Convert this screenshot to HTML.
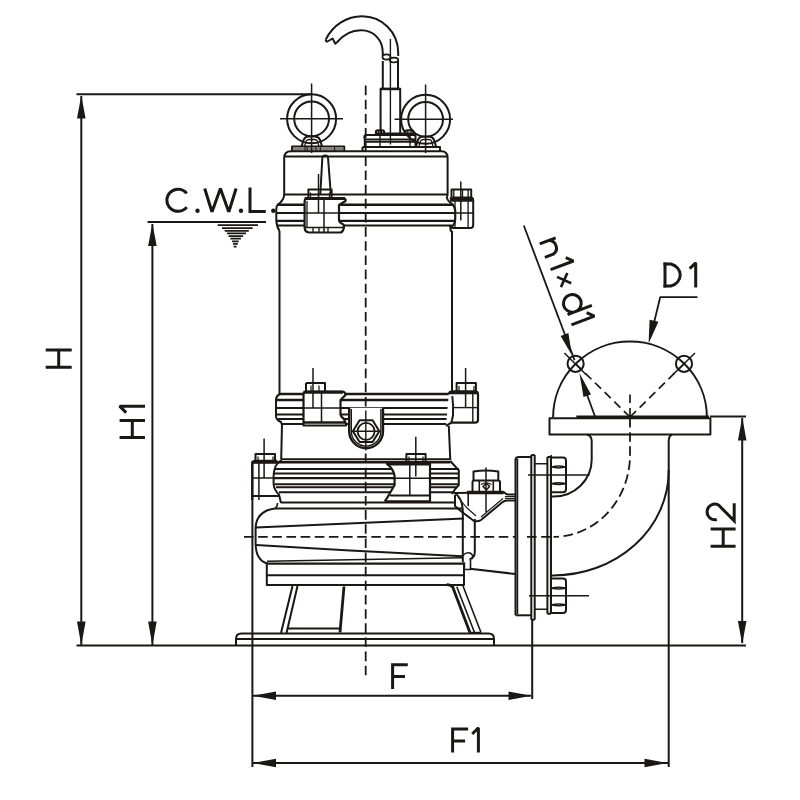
<!DOCTYPE html>
<html><head><meta charset="utf-8">
<style>
html,body{margin:0;padding:0;background:#fff;width:800px;height:800px;overflow:hidden}
svg{display:block}
</style></head><body>
<svg width="800" height="800" viewBox="0 0 800 800">
<rect width="800" height="800" fill="#fff"/>
<g fill="none" stroke="#1c1717" stroke-width="2" stroke-linejoin="round" stroke-linecap="butt">

<!-- ===== DIMENSIONS ===== -->
<g id="dims">
  <path d="M76.5 94.3H311"/>
  <path d="M81.3 96V645"/>
  <path d="M147.5 222H266"/>
  <path d="M152.4 224V645"/>
  <path d="M76.5 645.6H746"/>
  <path d="M252.4 461V767"/>
  <path d="M252.4 695.8H531"/>
  <path d="M532.2 619V699"/>
  <path d="M252.4 763H668"/>
  <path d="M742.2 418V643"/>
  <path d="M710 416.4H746"/>
</g>
<g id="arrows" fill="#1c1717" stroke="none">
  <path d="M81.3 95.5L85.6 118.5H77Z"/>
  <path d="M81.3 645.5L85.6 621.5H77Z"/>
  <path d="M152.4 223.5L156.7 246H148.1Z"/>
  <path d="M152.4 645.5L156.7 621.5H148.1Z"/>
  <path d="M253 695.8L276 691.5V700.1Z"/>
  <path d="M531.5 695.8L508.5 691.5V700.1Z"/>
  <path d="M253 763L276 758.7V767.3Z"/>
  <path d="M667.5 763L644.5 758.7V767.3Z"/>
  <path d="M742.2 417.5L746.5 440.5H737.9Z"/>
  <path d="M742.2 644L746.5 621H737.9Z"/>
</g>

<!-- water level symbol -->
<path d="M217.7 225.1H258M222 228.1H252.7M224.7 230.75H248.75M226.9 233.4H246.1M228.6 236H243.1M230.4 238.6H240.9M232.1 241.25H238.7M233 243.9H237.8M233.6 246.5H236.5" stroke-width="1.75"/>

<!-- ===== HOOK & CABLE ===== -->
<g id="hook">
  <path d="M325.8 39.5C333 25 347 16.3 362 16.3C382 16.3 398.2 32 398.2 53V56"/>
  <path d="M336.8 42.5C343 35 352 30.3 361 30.3C373.5 30.3 382.8 39.5 382.8 53V56"/>
  <path d="M325.8 39.5Q325.5 41.5 327.5 41.5L332.6 38.5L335.3 43.8L336.8 42.5"/>
  <ellipse cx="386.5" cy="57" rx="4" ry="2.6" stroke-width="1.8"/>
  <ellipse cx="394" cy="60" rx="4.2" ry="2.4" stroke-width="1.8"/>
  <path d="M382.8 61V88.6M398 61V88.6"/>
  <path d="M390.4 39V144.5" stroke-width="1.4"/>
  <path d="M380.6 133V88.8H400.2V133" stroke-width="2"/>
  <path d="M380.6 89H400.2" stroke-width="2.4"/>
</g>

<!-- ===== EYE BOLTS ===== -->
<g id="eyeL">
  <circle cx="311.6" cy="118.8" r="24.5"/>
  <circle cx="311.6" cy="118.8" r="17.4"/>
  <path d="M280 118.8H343M311.6 83.5V153" stroke-width="1.5"/>
  <path d="M301.6 146.4L303.6 139.8Q305 136.6 308.5 136.6H315Q318.5 136.6 320 139.8L322 146.4"/>
  <path d="M304.5 146.4L306.3 140.8Q307.3 139.5 309.2 139.5H314.2Q316.4 139.5 317.3 140.8L319 146.4" stroke-width="1.3"/>
  <path d="M292 151.2V146.4H344.3V151.2" stroke-width="1.9"/>
  <path d="M293 148.1H343.5M293 149.9H343.5" stroke-width="0.9"/>
  <path d="M305 146.5V151M307.2 146.5V151M316 146.5V151M320.3 146.5V151M334.6 146.5V151" stroke-width="1"/>
</g>
<g id="eyeR">
  <circle cx="425.6" cy="119.3" r="24.5"/>
  <circle cx="425.6" cy="119.3" r="17.4"/>
  <path d="M394.5 119.3H453M425.6 84.5V153" stroke-width="1.5"/>
  <path d="M416 146.4L418 139.8Q419.4 136.6 423 136.6H429Q432.5 136.6 434 139.8L436 146.4"/>
  <path d="M419 146.4L420.6 140.8Q421.6 139.5 423.5 139.5H428.5Q430.7 139.5 431.5 140.8L433 146.4" stroke-width="1.3"/>
</g>
<!-- gland base -->
<g id="gland">
  <path d="M375.9 134V132Q375.9 130.2 378.2 130.2H382Q384.2 130.2 384.2 132V134" stroke-width="2"/>
  <path d="M378.4 131V134M381.6 131V134" stroke-width="1.3"/>
  <path d="M405.3 134V132Q405.3 130.2 407.6 130.2H411.4Q413.5 130.2 413.5 132V134" stroke-width="2"/>
  <path d="M407.8 131V134M411 131V134" stroke-width="1.3"/>
  <path d="M375 133.8H414" stroke-width="2.4"/>
  <path d="M366.5 135H416M366.5 135Q364.3 135 364.3 137.2Q364.3 139.4 366.5 139.4H416"/>
  <path d="M365 141.9H416" stroke-width="1.6"/>
  <path d="M364.8 139.4V147M415.5 135V147"/>
  <path d="M362.5 147H440V151.2M362.5 147V151.2"/>
  <path d="M380 135V147M410 135V147" stroke-width="1.4"/>
</g>

<!-- ===== TOP CAP ===== -->
<g id="cap">
  <path d="M284.2 194V158Q284.2 151.3 291 151.3H441.5Q447.6 151.3 447.6 158V194"/>
  <path d="M284.5 156.5H447.5"/>
  <path d="M284.2 194.4H447.6"/>
  <path d="M320.3 194L322.3 158.5Q322.6 155.6 325.2 155.6Q327.8 155.6 328.1 158.5L330.8 194"/>
</g>

<!-- ===== UPPER FLANGE ===== -->
<g id="flange1">
  <path d="M284.2 194Q284.2 200 278 204.5Q276.3 206 276.3 209V220Q276.3 226 279.5 231"/>
  <path d="M447.6 194Q447.6 196.5 446.8 197.5Q447 200 452 204Q455 206.5 455.3 211V219Q455.3 224 451 227.5Q449.5 229.5 451.8 232"/>
  <path d="M277 204.7H453.5" stroke-width="2.4"/>
  <path d="M276.5 213H455"/>
  <path d="M276.5 220.9H455" stroke-width="2.4"/>
  <path d="M277 225.4H452"/>
  <!-- left bracket -->
  <path d="M304.6 201.5Q304.6 198 308 198H342.5Q346.5 198.5 345.5 201L339 205V220Q339 222.5 343.5 224.5Q345 229.5 341 232.5H309Q304.6 232 304.6 227Z" fill="#fff" stroke-width="2.2"/>
  <path d="M304.6 198.6H345" stroke-width="3"/>
  <path d="M307 201V227" stroke-width="1.3"/>
  <path d="M305 213H339" stroke-width="1.3"/>
  <path d="M324 198V232.5" stroke-width="1.5"/>
  <path d="M305 227.5H343M313 228V232M319 228V232M328 228V232" stroke-width="1.3"/>
  <path d="M308.4 197V189.6H331.6V197" stroke-width="2"/>
  <path d="M310.5 192.5V197M329.5 192.5V197" stroke-width="1.2"/>
  <path d="M318.5 174V213" stroke-width="1.5"/>
  <!-- right bracket -->
  <path d="M451.5 197V189.6H471.2V197" stroke-width="2"/>
  <path d="M453.8 190V197M462.5 190V197M468.1 190V197" stroke-width="1.3"/>
  <path d="M450 197.4Q451 199 451 201H472.5" stroke-width="1.6"/>
  <path d="M450.5 199.2H472.5" stroke-width="3.4"/>
  <path d="M451.5 197.5H470.5Q473.2 197.5 473.2 200V225Q473.2 228 470.5 228H453Q450 228 450 226" stroke-width="2"/>
  <path d="M460.8 181.5V220.5" stroke-width="1.5"/>
  <path d="M455 201V228M468.1 201V228M453 213H473.2" stroke-width="1.3"/>
</g>

<!-- ===== MOTOR BODY ===== -->
<g id="body">
  <path d="M279.5 231V394"/>
  <path d="M452 231V391.5"/>
  <path d="M365.7 85.6V676" stroke-dasharray="9.6 4.55" stroke-width="1.8"/>
</g>

<!-- ===== MIDDLE FLANGE ===== -->
<g id="flange2">
  <path d="M279.5 394H453" stroke-width="2.4"/>
  <path d="M280 394Q276 396 276 400V416Q276 420 281 422L282 425"/>
  <path d="M276.5 400H453" stroke-width="2.4"/>
  <path d="M276.5 408H453"/>
  <path d="M276.5 414.5H453"/>
  <path d="M278 419H453"/>
  <path d="M281 424H449" stroke-width="2.2"/>
  <!-- left bracket -->
  <path d="M303.5 394.5Q303.5 391.5 306.5 391.5H342Q345.5 391.5 345.5 395L340.5 400V414Q340.5 416.5 344 419L346 424V425.5H303.5Z" fill="#fff" stroke-width="2.2"/>
  <path d="M303.5 392.3H343" stroke-width="3"/>
  <path d="M306 383V391M306 383H325V391"/>
  <path d="M311 385.5V391M319 385.5V391" stroke-width="1.2"/>
  <path d="M313 368V408" stroke-width="1.5"/>
  <path d="M321.5 392V422" stroke-width="1.5"/>
  <path d="M303.5 408H340.5" stroke-width="1.4"/>
  <path d="M304 422.5H345" stroke-width="2.6"/>
  <!-- right bracket -->
  <path d="M448.8 394Q449.5 391.4 452.5 391.4H475Q478 391.4 478 394.5V420Q478 422.6 475 422.6H451.4L446 426" fill="#fff" stroke-width="2.2"/>
  <path d="M449 392.8H477" stroke-width="3"/>
  <path d="M452.3 396Q453.5 406 453 415.5L451.4 422.6" stroke-width="2"/>
  <path d="M456.6 391V383.1H475.9V391"/>
  <path d="M459 386V391M474 386V391" stroke-width="1.2"/>
  <path d="M465.6 368V407.6" stroke-width="1.5"/>
  <path d="M453 407.6H478" stroke-width="1.4"/>
  <path d="M472.8 393V422.6" stroke-width="1.4"/>
  <!-- U bracket -->
  <path d="M349.2 407.8V431.3A16.9 16.9 0 0 0 383 431.3V407.8" fill="#fff" stroke-width="2.4"/>
  <path d="M351.3 409V431.3A14.8 14.8 0 0 0 380.9 431.3V409" stroke-width="1.4"/>
  <path d="M352.9 431.3L359.6 420.2H372.6L379.3 431.3L372.6 442H359.6Z" stroke-width="2"/>
  <circle cx="366.1" cy="431.3" r="8.5" stroke-width="1.8"/>
  <path d="M351.5 431.3H380.5M365.8 410.5V450.5" stroke-width="1.4"/>
</g>

<!-- ===== LOWER SECTION ===== -->
<g id="lower">
  <path d="M282 424L281.2 459.3"/>
  <path d="M448.8 426L450.3 460"/>
  <path d="M281 459.3H450.5"/>
  <path d="M277 462.3H450.5" stroke-width="2.4"/>
  <path d="M281.5 460Q276 464 275 468Q273.6 472 273.6 476V484Q274 490 279 494.5L281 503"/>
  <path d="M450.3 461L458.8 470.4V485L454.8 489.5L452 494"/>
  <path d="M275 469H459"/>
  <path d="M274 473.5H459"/>
  <path d="M274 478.2H459" stroke-width="2.2"/>
  <path d="M274.5 484.3H459"/>
  <path d="M276 487.3H457"/>
  <path d="M279 492.3H454"/>
  <!-- left bracket lower -->
  <path d="M252.2 500V464Q252.2 460.8 255.5 460.8H277.2" stroke-width="2.2"/>
  <path d="M252.5 462.5H277" stroke-width="2.6"/>
  <path d="M255.5 460.8V454H275V460.8" stroke-width="2"/>
  <path d="M258 456.5V460.8M273 456.5V460.8" stroke-width="1.2"/>
  <path d="M264.1 438.6V478M258.9 463V500" stroke-width="1.5"/>
  <path d="M252.5 478H274" stroke-width="1.5"/>
  <path d="M252.2 496H279.5" stroke-width="2"/>
  <!-- mid bracket lower -->
  <path d="M386.8 463.6H430V501.3H386.2Q384 501 386.8 498.5L394.6 485V476Q393.5 469 386.8 463.6Z" fill="#fff" stroke-width="2.2"/>
  <path d="M387 464.2H429.5" stroke-width="2.6"/>
  <path d="M406.4 461.4V454H425.6V461.4" stroke-width="2"/>
  <path d="M409 456.5V461.4M423 456.5V461.4" stroke-width="1.2"/>
  <path d="M415.8 436.8V476.6M409.8 464V496" stroke-width="1.5"/>
  <path d="M394.6 478.2H430" stroke-width="1.5"/>
  <path d="M390 495.5H430" stroke-width="2.2"/>
  <!-- volute -->
  <path d="M281 502.6H456" stroke-width="2"/>
  <path d="M275 508.4H462" stroke-width="2"/>
  <path d="M275 508.4Q256.5 511 255.6 527.5V544Q256 560 267 563.5"/>
  <path d="M275 508.4Q277.5 507 277.5 503" stroke-width="1.6"/>
  <path d="M256 527.5L464 518.5"/>
  <path d="M256 545L350 550.5L462.5 556.3"/>
  <path d="M267 563.6H464" stroke-width="2.4"/>
  <path d="M267 561.2L462.5 557.8" stroke-width="1.5"/>
  <path d="M454 492.5Q463 498 462.8 512V562"/>
  <path d="M474.8 519V552Q474.8 558 469.5 559.2"/>
  <path d="M463 555.5Q466 552 470 553Q474 555 472 559" stroke-width="1.4"/>
  <path d="M464.4 562.5V569.5H470.5V559.5" stroke-width="1.6"/>
  <!-- horizontal center dashed -->
  <path d="M244 536.9H553" stroke-dasharray="9.6 4.55" stroke-width="1.8"/>
</g>

<!-- ===== BASE ===== -->
<g id="base">
  <path d="M266.8 562.5V585H464V562.5"/>
  <path d="M266.8 575.3H464"/>
  <path d="M292.5 586L281 633M297.5 586L286.5 633"/>
  <path d="M344 586.5L340 632.5" stroke-width="2.8"/>
  <path d="M287 628.5H339.5"/>
  <path d="M446.5 584.7Q451 585 452.7 587L470 632.8" stroke-width="2.8"/>
  <path d="M456.8 586.8L474.5 632.5M463 586L481 632.5" stroke-width="1.6"/>
  <path d="M469 632.5H481" stroke-width="1.4"/>
  <path d="M236 645.5V639Q236 633.6 241.5 633.6H488.5Q494 633.6 494 639V645.5"/>
  <path d="M236.5 639H493.5"/>
</g>

<!-- ===== DISCHARGE ===== -->
<g id="discharge">
  <path d="M470 568.8L515.5 574"/>
  <!-- top nut on connector -->
  <path d="M473.5 480.4V471.5Q486 469.5 498.3 471.5V480.4" stroke-width="2"/>
  <path d="M472.5 491V482Q472.5 480.4 474.5 480.4H498Q500 480.4 500 482V491" stroke-width="2"/>
  <path d="M479.3 481V491M493.3 481V491" stroke-width="1.6"/>
  <path d="M486.3 483L489.5 486.5L486.3 490L483 486.5Z" stroke-width="1.5"/>
  <path d="M481 484.5Q486 481 491.5 484.5" stroke-width="1.2"/>
  <path d="M486 467.5V512" stroke-width="1.5"/>
  <path d="M467 492.5H503.5" stroke-width="3.5"/>
  <path d="M455 493L504 492.2Q506 494.6 508 494.6H515" stroke-width="2"/>
  <path d="M455 495V506L462 512L474 521Q478 522 481 520L502 502.5Q504.5 500.5 507 500.5H515"/>
  <path d="M458 497L466 507L476 516M481 517L503 498.5" stroke-width="1.2"/>
  <path d="M505 496.6H515M505 498.5H515" stroke-width="1.2"/>
  <path d="M468.2 493V506" stroke-width="1.6"/>
  <!-- vertical pump flange -->
  <path d="M515.6 615.3V460Q515.6 457 519 457H531.5" fill="#fff" stroke-width="2.2"/>
  <path d="M515.6 615.3H531.5" stroke-width="2"/>
  <path d="M517.6 459V614" stroke-width="1.3"/>
  <path d="M531.3 455V619.7M534.7 455V619.7M531.3 455H534.7M531.3 619.7H534.7"/>
  <path d="M547.4 457V613.8M550.9 457V613.8M547.4 457H550.9M547.4 613.8H550.9"/>
  <path d="M534.7 463.8H547.4M534.7 609.3H547.4" stroke-width="1.6"/>
  <!-- nuts -->
  <path d="M551 457.4H563Q566 457.4 566 460.4V489.3Q566 492.3 563 492.3H551" stroke-width="2"/>
  <path d="M552 466.9Q558.5 465.29999999999995 565.5 466.9M552 467.09999999999997Q558.5 468.7 565.5 467.09999999999997" stroke-width="1.5"/>
  <path d="M552 483.5Q558.5 481.9 565.5 483.5M552 483.7Q558.5 485.3 565.5 483.7" stroke-width="1.5"/>
  <path d="M551 578.5H563Q566 578.5 566 581.5V610Q566 613 563 613H551" stroke-width="2"/>
  <path d="M552 588.1Q558.5 586.5 565.5 588.1M552 588.3000000000001Q558.5 589.9 565.5 588.3000000000001" stroke-width="1.5"/>
  <path d="M552 604.7Q558.5 603.1 565.5 604.7M552 604.9000000000001Q558.5 606.5 565.5 604.9000000000001" stroke-width="1.5"/>
  <path d="M528 475H589.5M529 595.7H589" stroke-width="1.5"/>
</g>

<!-- ===== ELBOW & OUTLET FLANGE ===== -->
<g id="elbow">
  <path d="M551.2 455V613.8" stroke-width="1.6"/>
  <path d="M587 434.5Q591.7 436 591.7 441V459.5A38.2 37.1 0 0 1 553.5 496.6H551"/>
  <path d="M672 434.5Q668.7 436 668.7 441V470.8A115.2 104.6 0 0 1 553.5 575.4H551"/>
  <path d="M668.7 470V767"/>
  <path d="M630 418V455A76.5 81.9 0 0 1 553.5 536.9" stroke-dasharray="9.6 4.55" stroke-width="1.8"/>
  <rect x="549.5" y="418.2" width="160.9" height="16.2"/>
  <path d="M553.1 417.5A76.9 76 0 0 1 706.9 417.5"/>
  <path d="M576.3 416.8H709" stroke-width="2.6"/>
  <circle cx="575.6" cy="363.8" r="8.1"/>
  <circle cx="684" cy="363.8" r="8.1"/>
  <path d="M564.4 353L586 374.5" stroke-width="1.5"/>
  <path d="M695 353L673 374.5" stroke-width="1.5"/>
  <path d="M630 417L575.6 363.8M630 417L684 363.8M630 394.4V418" stroke-dasharray="8.5 5" stroke-width="1.7"/>
  <path d="M595 416.5L582 381" stroke-width="1.8"/>
  <path d="M579.4 373L591 394.5L583.5 397Z" fill="#1c1717" stroke="none"/>
  <!-- n1xd1 leader -->
  <path d="M523.8 225.5L574.6 360.3" stroke-width="1.8"/>
  <path d="M571.9 355.2L560.6 335.9L568.4 333Z" fill="#1c1717" stroke="none"/>
  <!-- D1 leader -->
  <path d="M697.5 297.2H660.2L651.5 333" stroke-width="1.8"/>
  <path d="M648.6 343.5L649.6 319.8L658.4 321.8Z" fill="#1c1717" stroke="none"/>
</g>
</g>

<!-- ===== TEXT (stroked glyphs) ===== -->
<g fill="none" stroke="#1c1717" stroke-width="3" stroke-linecap="butt" stroke-linejoin="miter">
  <!-- C.W.L. -->
  <path d="M186.75 193.4A11.1 11.1 0 1 0 186.75 207.1"/>
  <path d="M204.7 188.5L212 212M212 212L220.4 188.5M220.4 188.5L228.8 212M228.8 212L236.1 188.5" stroke-linejoin="miter"/>
  <path d="M250 187.5V211.5H265.8"/>
  <!-- H -->
  <path d="M45.7 349.9H71.7M45.7 367.2H71.7M58.7 349.9V367.2"/>
  <!-- H1 -->
  <path d="M119.6 420.5H145M119.6 437.5H145M132.3 420.5V437.5"/>
  <path d="M145 406.2H119.6L126.2 412.6" stroke-linejoin="bevel"/>
  <!-- F -->
  <path d="M392.6 689V663.3M391.2 664.8H407.8M392.6 676.5H405"/>
  <!-- F1 -->
  <path d="M452.6 752.6V727.5M451.2 729H468.1M452.6 741H465.1"/>
  <path d="M478.4 752.6V727.8L472.2 734" stroke-linejoin="bevel"/>
  <!-- D1 -->
  <path d="M665 287.5V262.5"/>
  <path d="M663.5 264H671A13 11.5 0 0 1 671 286H663.5"/>
  <path d="M695.7 287.5V262.8L689.7 268.6" stroke-linejoin="bevel"/>
  <!-- H2 -->
  <path d="M710.6 529H735.6M710.6 546.2H735.6M723.2 529V546.2"/>
  <path d="M734.2 503.3V520.8L718.5 505A7.8 7.8 0 1 0 716.8 519.5"/>
</g>
<!-- dots -->
<g fill="#1c1717" stroke="none">
  <circle cx="197.5" cy="210.8" r="2.2"/>
  <circle cx="241" cy="210.8" r="2.2"/>
  <circle cx="273.3" cy="210.8" r="2.2"/>
</g>
<!-- n1xd1 rotated text -->
<g transform="translate(540.5 243) rotate(69.3)" fill="none" stroke="#1c1717" stroke-width="3" stroke-linejoin="bevel">
  <path d="M0.5 1V-16M0.5 -8A7.5 7.5 0 0 1 15 -8V1"/>
  <path d="M28.5 0V-24.5L22.5 -18.5"/>
  <path d="M37.5 -14.5L48.5 -3.5M48.5 -14.5L37.5 -3.5" stroke-width="2.6"/>
  <path d="M76.5 -26V0M76.5 -8.5A8.8 8.8 0 1 0 76.5 -8.4"/>
  <path d="M87.5 0V-24.5L81.5 -18.5"/>
</g>
</svg>
</body></html>
